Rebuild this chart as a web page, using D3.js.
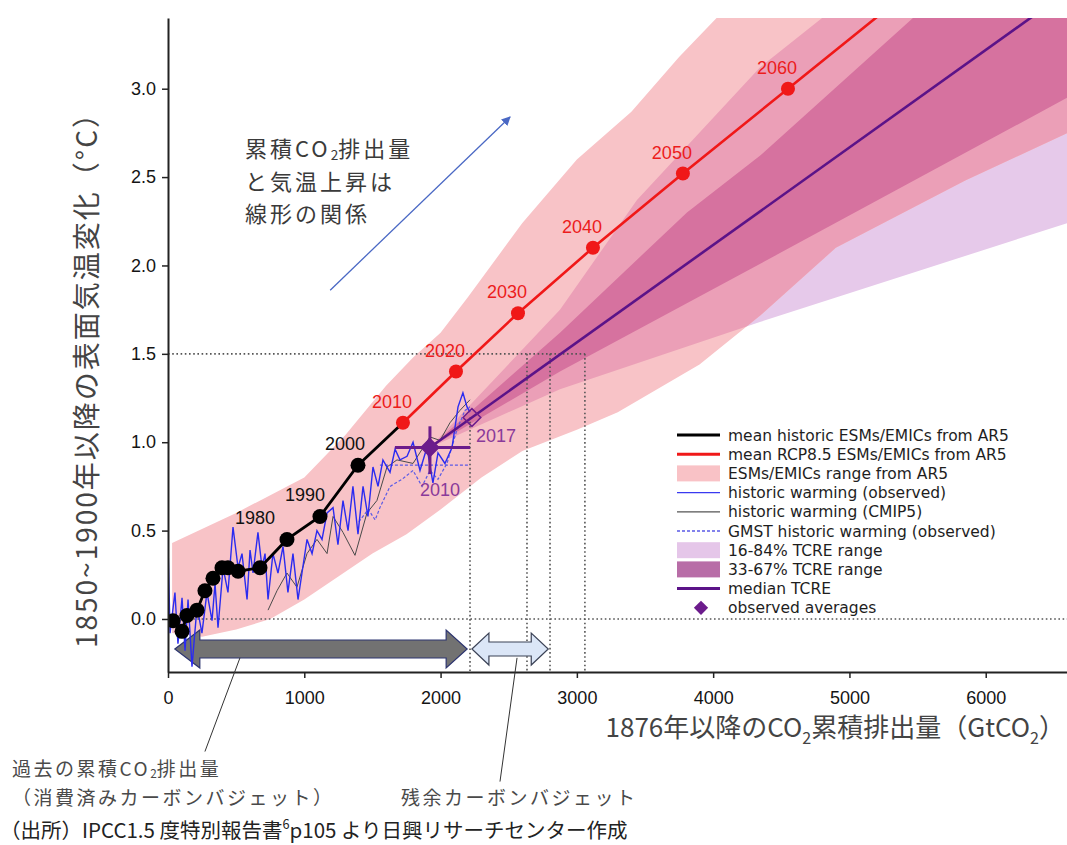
<!DOCTYPE html>
<html>
<head>
<meta charset="utf-8">
<script src="https://cdn.jsdelivr.net/npm/d3@7"></script>
<style>
  body { margin: 0; background: #fff; }
  svg { display: block; }
</style>
</head>
<body>
<div id="chart"></div>
<script>
// ---- data (x = cumulative CO2 since 1876, GtCO2 ; y = warming since 1850-1900, °C) ----
const yTicks = [0.0, 0.5, 1.0, 1.5, 2.0, 2.5, 3.0];
const xTicks = [0, 1000, 2000, 3000, 4000, 5000, 6000];

// mean historic ESMs/EMICs (decadal dots 1880..2000)
const histYears = [1880, 1890, 1900, 1910, 1920, 1930, 1940, 1950, 1960, 1970, 1980, 1990, 2000];
const histCum = [37, 103, 139, 213, 271, 330, 396, 440, 514, 675, 873, 1115, 1394];
const histTemp = [-0.01, -0.07, 0.02, 0.05, 0.16, 0.23, 0.29, 0.29, 0.27, 0.29, 0.45, 0.58, 0.87];
const histLabelled = [1980, 1990, 2000];

// mean RCP8.5 ESMs/EMICs
const rcpYears = [2010, 2020, 2030, 2040, 2050, 2060, 2070];
const rcpCum = [1724, 2113, 2568, 3118, 3778, 4549, 5450];
const rcpTemp = [1.11, 1.40, 1.73, 2.10, 2.52, 3.00, 3.56];

// historic warming (observed)
const obsCum = [0, 15, 51, 73, 103, 125, 147, 176, 213, 249, 286, 323, 345, 367, 404, 440, 477, 514, 543, 580,
  602, 624, 660, 690, 712, 734, 770, 807, 844, 880, 917, 954, 983, 1020, 1057, 1093, 1130, 1167, 1211, 1247,
  1284, 1321, 1357, 1394, 1431, 1467, 1504, 1541, 1577, 1629, 1666, 1702, 1754, 1798, 1849, 1900, 1944, 1981, 2032, 2084,
  2128, 2164, 2194, 2216];
const obsTemp = [0.43, -0.08, 0.15, -0.14, 0.12, -0.18, 0.11, -0.27, 0.07, -0.08, 0.15, -0.01, 0.20, -0.05, 0.29, 0.15, 0.52, 0.29, 0.37, 0.11,
  0.39, 0.26, 0.49, 0.29, 0.37, 0.11, 0.37, 0.26, 0.41, 0.15, 0.37, 0.11, 0.26, 0.45, 0.37, 0.50, 0.45, 0.60, 0.63, 0.42,
  0.67, 0.50, 0.75, 0.48, 0.75, 0.58, 0.86, 0.75, 0.90, 0.83, 0.96, 0.90, 0.92, 1.00, 0.84, 0.97, 0.77, 0.94, 0.88, 0.97,
  1.20, 1.28, 1.20, 1.17];

// historic warming (CMIP5)
const cmipCum = [734, 800, 873, 946, 1020, 1093, 1167, 1211, 1284, 1372, 1460, 1533, 1607, 1680, 1798, 1922, 1996, 2069, 2142, 2216];
const cmipTemp = [0.05, 0.16, 0.26, 0.18, 0.37, 0.45, 0.37, 0.58, 0.49, 0.36, 0.60, 0.67, 0.86, 0.90, 0.88, 1.03, 1.01, 1.11, 1.18, 1.24];

// GMST historic warming (observed)
const gmstCum = [1400, 1470, 1520, 1555, 1629, 1717, 1798, 1864, 1922, 1981, 2047, 2120, 2179, 2216];
const gmstTemp = [0.55, 0.62, 0.56, 0.63, 0.75, 0.79, 0.84, 0.75, 0.84, 0.79, 0.88, 1.07, 1.18, 1.20];
const gmstMean = [[1555, 0.87], [2216, 0.87]];

// ESMs/EMICs range from AR5
const pinkUpper = [[30, 0.43], [500, 0.60], [1000, 0.80], [1300, 1.04], [1600, 1.32], [1800, 1.48], [2000, 1.62],
  [2200, 1.82], [2600, 2.24], [3000, 2.60], [3400, 2.87], [3750, 3.18], [4050, 3.42], [6600, 5.20]];
const pinkLower = [[30, -0.08], [250, -0.10], [500, -0.06], [750, 0.0], [1000, 0.11], [1250, 0.24], [1500, 0.37],
  [1750, 0.48], [2000, 0.62], [2300, 0.80], [2600, 0.95], [3000, 1.07], [3300, 1.17], [3900, 1.44], [4350, 1.72],
  [4900, 2.10], [5850, 2.48], [6600, 2.75]];

// TCRE ranges
const tcre16Upper = [[1922, 0.97], [2876, 1.75], [3441, 2.37], [4343, 3.12], [4783, 3.39], [5200, 3.65], [6600, 6.0]];
const tcre33Upper = [[1922, 0.97], [2876, 1.62], [3808, 2.30], [4343, 2.62], [5466, 3.40], [5700, 3.55], [6600, 6.0]];
const tcre33Lower = [[1922, 0.97], [2876, 1.40], [4490, 2.07], [6600, 2.95]];
const tcre16Lower = [[1922, 0.97], [2876, 1.30], [4343, 1.68], [6600, 2.24]];
const tcreMedian = [[1922, 0.97], [6600, 3.55]];

// observed averages
const avgYears = ["2010", "2017"];
const avgCum = [1922, 2230];
const avgTemp = [0.97, 1.14];
const avg2010Span = [1665, 2216];
const avg2010Range = [0.82, 1.09];

// carbon budget reference lines
const budgetCum = [2634, 2803, 3059];
const budgetStart = 2216;
const budgetLevel = 1.5;
const spentBudget = [50, 2195];
const remainingBudget = [2230, 2790];

const legendLabels = ["mean historic ESMs/EMICs from AR5", "mean RCP8.5 ESMs/EMICs from AR5", "ESMs/EMICs range from AR5",
  "historic warming (observed)", "historic warming (CMIP5)", "GMST historic warming (observed)",
  "16-84% TCRE range", "33-67% TCRE range", "median TCRE", "observed averages"];

// ---- layout ----
const width = 1067, height = 845;
const margin = { top: 18, right: 0, bottom: 173, left: 168 };
const plotBottom = height - margin.bottom;

const x = d3.scaleLinear().domain([0, 6600]).range([margin.left, width + 0.5]);
const y = d3.scaleLinear().domain([-0.30, 3.40]).range([plotBottom, margin.top]);

const jp = "'Noto Sans CJK JP', 'Noto Sans CJK SC', sans-serif";
const arial = "'Liberation Sans', Arial, sans-serif";

const svg = d3.select("#chart").append("svg")
  .attr("width", width)
  .attr("height", height);

svg.append("rect").attr("width", width).attr("height", height).attr("fill", "#fff");

const defs = svg.append("defs");
defs.append("clipPath").attr("id", "plotClip")
  .append("rect")
  .attr("x", margin.left).attr("y", margin.top)
  .attr("width", width - margin.left).attr("height", plotBottom - margin.top);

const poly = pts => d3.line().x(d => x(d[0])).y(d => y(d[1]))(pts) + "Z";
const band = (upper, lower) => upper.concat(lower.slice().reverse());
const zip = (xs, ys) => xs.map((v, i) => [v, ys[i]]);

defs.append("clipPath").attr("id", "pinkClip")
  .append("path").attr("d", poly(band(pinkUpper, pinkLower)));

const plot = svg.append("g").attr("clip-path", "url(#plotClip)");

// bands
plot.append("path").attr("d", poly(band(tcre16Upper, tcre16Lower))).attr("fill", "#e6c9ea");
plot.append("path").attr("d", poly(band(pinkUpper, pinkLower))).attr("fill", "#f8c3c7");
const inPink = plot.append("g").attr("clip-path", "url(#pinkClip)");
inPink.append("path").attr("d", poly(band(tcre16Upper, tcre16Lower))).attr("fill", "#eb9fb7");
inPink.append("path").attr("d", poly(band(tcre33Upper, tcre33Lower))).attr("fill", "#d6729f");

// dotted reference lines
const dotted = plot.append("g")
  .attr("stroke", "#555")
  .attr("stroke-width", 1.6)
  .attr("stroke-dasharray", "1.6,2.6")
  .attr("fill", "none");
dotted.append("line")
  .attr("x1", x(0)).attr("x2", x(6600)).attr("y1", y(0)).attr("y2", y(0));
dotted.append("line")
  .attr("x1", x(0)).attr("x2", x(d3.max(budgetCum))).attr("y1", y(budgetLevel)).attr("y2", y(budgetLevel));
dotted.append("line")
  .attr("x1", x(budgetStart)).attr("x2", x(budgetStart)).attr("y1", y(avgTemp[1])).attr("y2", y(-0.30));
dotted.selectAll("line.budget")
  .data(budgetCum)
  .join("line")
  .attr("class", "budget")
  .attr("x1", d => x(d)).attr("x2", d => x(d))
  .attr("y1", y(budgetLevel)).attr("y2", y(-0.30));

// budget arrows
function doubleArrow(x0, x1, yc, h, H, L0, L1) {
  return `M${x0},${yc} L${x0 + L0},${yc - H} L${x0 + L0},${yc - h} L${x1 - L1},${yc - h} L${x1 - L1},${yc - H} L${x1},${yc}` +
    ` L${x1 - L1},${yc + H} L${x1 - L1},${yc + h} L${x0 + L0},${yc + h} L${x0 + L0},${yc + H} Z`;
}
const arrowY = y(-0.17);
plot.append("path")
  .attr("d", doubleArrow(x(spentBudget[0]), x(spentBudget[1]), arrowY, 9, 19, 25, 21))
  .attr("fill", "#727272")
  .attr("stroke", "#2c3470")
  .attr("stroke-width", 1.2);
plot.append("path")
  .attr("d", doubleArrow(x(remainingBudget[0]), x(remainingBudget[1]), arrowY, 7, 16, 17, 17))
  .attr("fill", "#dbe6f7")
  .attr("stroke", "#3b4256")
  .attr("stroke-width", 1.2);

// historic series
const line = d3.line().x(d => x(d[0])).y(d => y(d[1]));

plot.append("path")
  .attr("d", line(zip(cmipCum, cmipTemp)))
  .attr("fill", "none").attr("stroke", "#4a4a4a").attr("stroke-width", 1);

plot.append("path")
  .attr("d", line(zip(gmstCum, gmstTemp)))
  .attr("fill", "none").attr("stroke", "#5a5ae6").attr("stroke-width", 1.2).attr("stroke-dasharray", "3,2");
plot.append("path")
  .attr("d", line(gmstMean))
  .attr("fill", "none").attr("stroke", "#5a5ae6").attr("stroke-width", 1.2).attr("stroke-dasharray", "3,2");

plot.append("path")
  .attr("d", line(zip(obsCum, obsTemp)))
  .attr("fill", "none").attr("stroke", "#2b2bf0").attr("stroke-width", 1.4);

// median TCRE
plot.append("path")
  .attr("d", line(tcreMedian))
  .attr("fill", "none").attr("stroke", "#5b1388").attr("stroke-width", 2.6);

// mean historic (black) joins the first RCP point
const histPts = zip(histCum, histTemp).concat([[rcpCum[0], rcpTemp[0]]]);
plot.append("path")
  .attr("d", line(histPts))
  .attr("fill", "none").attr("stroke", "#000").attr("stroke-width", 2.8);

const rcpPts = zip(rcpCum, rcpTemp);
plot.append("path")
  .attr("d", line(rcpPts))
  .attr("fill", "none").attr("stroke", "#f01818").attr("stroke-width", 2.6);

plot.selectAll("circle.hist")
  .data(zip(histCum, histTemp))
  .join("circle")
  .attr("class", "hist")
  .attr("cx", d => x(d[0])).attr("cy", d => y(d[1]))
  .attr("r", 7.5).attr("fill", "#000");

plot.selectAll("circle.rcp")
  .data(rcpPts)
  .join("circle")
  .attr("class", "rcp")
  .attr("cx", d => x(d[0])).attr("cy", d => y(d[1]))
  .attr("r", 7).attr("fill", "#f01818");

// observed averages
const purple = "#6c1c8c";
plot.append("line")
  .attr("x1", x(avg2010Span[0])).attr("x2", x(avg2010Span[1]))
  .attr("y1", y(avgTemp[0])).attr("y2", y(avgTemp[0]))
  .attr("stroke", purple).attr("stroke-width", 3);
plot.append("line")
  .attr("x1", x(avgCum[0])).attr("x2", x(avgCum[0]))
  .attr("y1", y(avg2010Range[0])).attr("y2", y(avg2010Range[1]))
  .attr("stroke", purple).attr("stroke-width", 3);

const diamond = d3.symbol().type(d3.symbolDiamond2).size(200);
plot.selectAll("path.avg")
  .data(avgYears)
  .join("path")
  .attr("class", "avg")
  .attr("d", diamond)
  .attr("transform", (d, i) => `translate(${x(avgCum[i])},${y(avgTemp[i])})`)
  .attr("fill", (d, i) => i === 0 ? purple : "none")
  .attr("stroke", purple)
  .attr("stroke-width", 1.5);

// labels on series
const labels = svg.append("g").attr("font-family", arial).attr("font-size", 18);

labels.selectAll("text.rcp")
  .data(rcpPts.slice(0, 6))
  .join("text")
  .attr("class", "rcp")
  .attr("x", d => x(d[0]) - 11)
  .attr("y", d => y(d[1]) - 15)
  .attr("text-anchor", "middle")
  .attr("fill", "#ec1c1c")
  .text((d, i) => rcpYears[i]);

const histShift = { 1980: -32, 1990: -15, 2000: -13 };
labels.selectAll("text.hist")
  .data(histLabelled)
  .join("text")
  .attr("class", "hist")
  .attr("x", d => x(histCum[histYears.indexOf(d)]) + histShift[d])
  .attr("y", d => y(histTemp[histYears.indexOf(d)]) - 15)
  .attr("text-anchor", "middle")
  .attr("fill", "#111")
  .text(d => d);

labels.append("text")
  .attr("x", x(avgCum[0]) + 10).attr("y", y(avgTemp[0]) + 48)
  .attr("text-anchor", "middle").attr("fill", "#8a3a9a")
  .text(avgYears[0]);
labels.append("text")
  .attr("x", x(avgCum[1]) + 4).attr("y", y(avgTemp[1]) + 25)
  .attr("fill", "#8a3a9a")
  .text(avgYears[1]);

// axes
const yAxis = d3.axisLeft(y).tickValues(yTicks).tickFormat(d3.format(".1f")).tickSize(6).tickSizeOuter(0).tickPadding(6);
const yG = svg.append("g").attr("transform", `translate(${margin.left},0)`).call(yAxis);
const xAxis = d3.axisBottom(x).tickValues(xTicks).tickFormat(d3.format("d")).tickSize(6).tickSizeOuter(0);
const xG = svg.append("g").attr("transform", `translate(0,${plotBottom})`).call(xAxis);

[yG, xG].forEach(g => {
  g.select(".domain").attr("stroke", "#222").attr("stroke-width", 2);
  g.selectAll(".tick line").attr("stroke", "#222").attr("stroke-width", 1.5);
  g.selectAll("text").attr("font-family", arial).attr("font-size", 18).attr("fill", "#141414");
});
xG.selectAll("text").attr("y", 19);

// rich text helper (subscript / superscript digits); latin runs keep normal spacing
function richText(sel, str, subDrop = 0.25) {
  const parts = str.split(/(\{sub\}\d|\{sup\}\d)/).filter(p => p);
  let shift = 0;
  parts.forEach(p => {
    if (p.startsWith("{sub}") || p.startsWith("{sup}")) {
      const up = p.startsWith("{sup}") ? -0.45 : subDrop;
      sel.append("tspan").attr("font-size", "62%").attr("letter-spacing", 0)
        .attr("dy", `${(up - shift) / 0.62}em`).text(p.slice(5));
      shift = up;
    } else {
      const t = sel.append("tspan").text(p);
      if (/^[A-Za-z0-9 .]+$/.test(p)) t.attr("letter-spacing", 0);
      if (shift) t.attr("dy", `${-shift}em`);
      shift = 0;
    }
  });
  return sel;
}

// axis titles
richText(svg.append("text")
  .attr("x", 1065).attr("y", 737)
  .attr("text-anchor", "end")
  .attr("font-family", jp).attr("font-size", 26).attr("fill", "#444"),
  "1876年以降のCO{sub}2累積排出量（GtCO{sub}2）");

svg.append("text")
  .attr("transform", "translate(97,373) rotate(-90)")
  .attr("text-anchor", "middle")
  .attr("font-family", jp).attr("font-size", 28).attr("letter-spacing", 2).attr("fill", "#444")
  .text("1850~1900年以降の表面気温変化（°C）");

// annotation: linear relation
const note = svg.append("g")
  .attr("font-family", jp).attr("font-size", 22).attr("letter-spacing", 3).attr("fill", "#3a3a3a");
richText(note.append("text").attr("x", 245).attr("y", 157), "累積CO{sub}2排出量", 0.12);
note.append("text").attr("x", 245).attr("y", 190).text("と気温上昇は");
note.append("text").attr("x", 245).attr("y", 222).text("線形の関係");

defs.append("marker").attr("id", "head")
  .attr("viewBox", "0 0 10 10").attr("refX", 9).attr("refY", 5)
  .attr("markerWidth", 7).attr("markerHeight", 7).attr("orient", "auto")
  .append("path").attr("d", "M0,0 L10,5 L0,10 Z").attr("fill", "#4a68c4");
svg.append("line")
  .attr("x1", x(1190)).attr("y1", y(1.86)).attr("x2", x(2510)).attr("y2", y(2.84))
  .attr("stroke", "#4a68c4").attr("stroke-width", 1.3).attr("marker-end", "url(#head)");

// callouts below the axis
const callout = svg.append("g").attr("stroke", "#333").attr("stroke-width", 1);
callout.append("line").attr("x1", x(528)).attr("y1", y(-0.22)).attr("x2", x(271)).attr("y2", y(-0.75));
callout.append("line").attr("x1", x(2561)).attr("y1", y(-0.22)).attr("x2", x(2436)).attr("y2", y(-0.92));

const below = svg.append("g")
  .attr("font-family", jp).attr("font-size", 19).attr("letter-spacing", 2.5).attr("fill", "#4a4a4a");
richText(below.append("text").attr("x", 12).attr("y", 776), "過去の累積CO{sub}2排出量", 0.12);
below.append("text").attr("x", 12).attr("y", 805).text("（消費済みカーボンバジェット）");
below.append("text").attr("x", 401).attr("y", 805).text("残余カーボンバジェット");

richText(svg.append("text")
  .attr("x", 0).attr("y", 838)
  .attr("font-family", jp).attr("font-size", 20.5).attr("fill", "#222"),
  "（出所）IPCC1.5 度特別報告書{sup}6p105 より日興リサーチセンター作成");

// legend
const legendKeys = [
  { type: "line", color: "#000", w: 3 },
  { type: "line", color: "#f01818", w: 3 },
  { type: "rect", color: "#f9c2c6" },
  { type: "line", color: "#3a3af0", w: 1.3 },
  { type: "line", color: "#555", w: 1.3 },
  { type: "line", color: "#5a5ae6", w: 1.3, dash: "3,2" },
  { type: "rect", color: "#e5c6e9" },
  { type: "rect", color: "#b86da7" },
  { type: "line", color: "#5b1388", w: 3 },
  { type: "diamond", color: purple }
];
const legend = svg.append("g").attr("transform", "translate(677,435)");
const rows = legend.selectAll("g")
  .data(legendLabels)
  .join("g")
  .attr("transform", (d, i) => `translate(0,${i * 19.2})`);
rows.each(function (d, i) {
  const k = legendKeys[i];
  const g = d3.select(this);
  if (k.type === "line") {
    g.append("line").attr("x1", 0).attr("x2", 43).attr("y1", 0).attr("y2", 0)
      .attr("stroke", k.color).attr("stroke-width", k.w).attr("stroke-dasharray", k.dash || null);
  } else if (k.type === "rect") {
    g.append("rect").attr("x", 0).attr("y", -8).attr("width", 43).attr("height", 16).attr("fill", k.color);
  } else {
    g.append("path").attr("d", d3.symbol().type(d3.symbolDiamond2).size(130)).attr("transform", "translate(24,0)").attr("fill", k.color);
  }
});
rows.append("text")
  .attr("x", 51).attr("y", 5.5)
  .attr("font-family", "'DejaVu Sans', sans-serif").attr("font-size", 15.5).attr("fill", "#1e1e1e")
  .text(d => d);
</script>
</body>
</html>
